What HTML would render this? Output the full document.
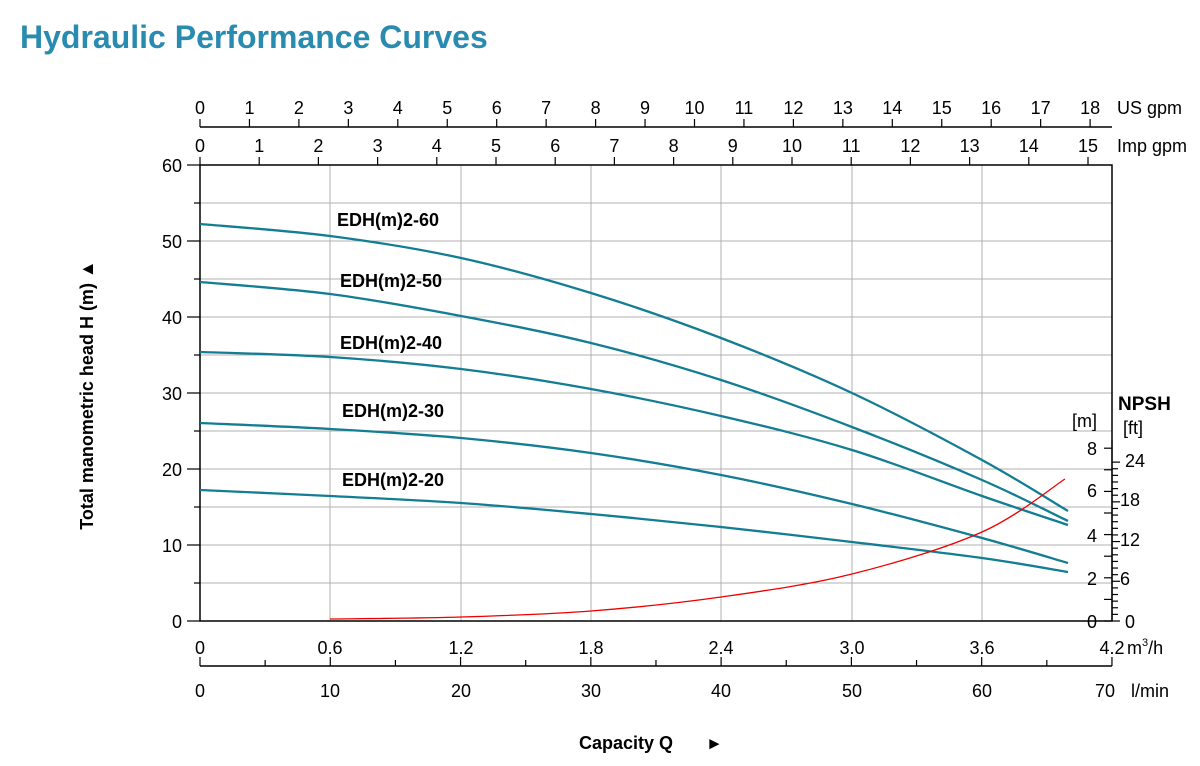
<!DOCTYPE html>
<html><head><meta charset="utf-8"><style>
body{margin:0;background:#fff;}
svg{display:block;font-family:"Liberation Sans",Arial,sans-serif;}
</style></head><body>
<svg id="s" width="1200" height="766" viewBox="0 0 1200 766">
<text x="20" y="48" font-size="32" font-weight="bold" fill="#2a8bb0">Hydraulic Performance Curves</text>

<g stroke="#b0b0b0" stroke-width="1">
<line x1="200" y1="203" x2="1112" y2="203"/><line x1="200" y1="241" x2="1112" y2="241"/>
<line x1="200" y1="279" x2="1112" y2="279"/><line x1="200" y1="317" x2="1112" y2="317"/>
<line x1="200" y1="355" x2="1112" y2="355"/><line x1="200" y1="393" x2="1112" y2="393"/>
<line x1="200" y1="431" x2="1112" y2="431"/><line x1="200" y1="469" x2="1112" y2="469"/>
<line x1="200" y1="507" x2="1112" y2="507"/><line x1="200" y1="545" x2="1112" y2="545"/>
<line x1="200" y1="583" x2="1112" y2="583"/>
<line x1="330" y1="165" x2="330" y2="621"/><line x1="461" y1="165" x2="461" y2="621"/>
<line x1="591" y1="165" x2="591" y2="621"/><line x1="721" y1="165" x2="721" y2="621"/>
<line x1="852" y1="165" x2="852" y2="621"/><line x1="982" y1="165" x2="982" y2="621"/>
</g>
<rect x="200" y="165" width="912" height="456" stroke="#000" stroke-width="1.5" fill="none"/>
<g stroke="#000" stroke-width="1.2">
<line x1="187" y1="165" x2="200" y2="165"/><line x1="194" y1="203" x2="200" y2="203"/>
<line x1="187" y1="241" x2="200" y2="241"/><line x1="194" y1="279" x2="200" y2="279"/>
<line x1="187" y1="317" x2="200" y2="317"/><line x1="194" y1="355" x2="200" y2="355"/>
<line x1="187" y1="393" x2="200" y2="393"/><line x1="194" y1="431" x2="200" y2="431"/>
<line x1="187" y1="469" x2="200" y2="469"/><line x1="194" y1="507" x2="200" y2="507"/>
<line x1="187" y1="545" x2="200" y2="545"/><line x1="194" y1="583" x2="200" y2="583"/>
<line x1="187" y1="621" x2="200" y2="621"/>
</g>
<g font-size="18" text-anchor="end">
<text x="182" y="172">60</text><text x="182" y="248">50</text><text x="182" y="324">40</text>
<text x="182" y="400">30</text><text x="182" y="476">20</text><text x="182" y="552">10</text><text x="182" y="628">0</text>
</g>
<text transform="translate(93,395) rotate(-90)" font-size="18" font-weight="bold" text-anchor="middle">Total manometric head H (m) ▲</text>

<line x1="200" y1="127" x2="1112" y2="127" stroke="#000" stroke-width="1.5"/>
<g stroke="#000" stroke-width="1.2" id="us"></g>
<g font-size="18" text-anchor="middle" id="ust"></g>
<text x="1117" y="114" font-size="18">US gpm</text>
<g stroke="#000" stroke-width="1.2" id="imp"></g>
<g font-size="18" text-anchor="middle" id="impt"></g>
<text x="1117" y="152" font-size="18">Imp gpm</text>

<g font-size="18" text-anchor="middle">
<text x="200" y="654">0</text><text x="330" y="654">0.6</text><text x="461" y="654">1.2</text>
<text x="591" y="654">1.8</text><text x="721" y="654">2.4</text><text x="852" y="654">3.0</text>
<text x="982" y="654">3.6</text><text x="1112" y="654">4.2</text>
</g>
<text x="1127" y="654" font-size="18">m<tspan font-size="11" dy="-8">3</tspan><tspan dy="8">/h</tspan></text>
<line x1="200" y1="666" x2="1112" y2="666" stroke="#000" stroke-width="1.5"/>
<g stroke="#000" stroke-width="1.2" id="lm"></g>
<g font-size="18" text-anchor="middle">
<text x="200" y="697">0</text><text x="330" y="697">10</text><text x="461" y="697">20</text>
<text x="591" y="697">30</text><text x="721" y="697">40</text><text x="852" y="697">50</text>
<text x="982" y="697">60</text><text x="1105" y="697">70</text>
</g>
<text x="1131" y="697" font-size="18">l/min</text>
<text x="579" y="749" font-size="18" font-weight="bold">Capacity Q</text>
<text x="706" y="749" font-size="17" font-weight="bold">►</text>

<g stroke="#000" stroke-width="1.2" id="np"></g>
<g font-size="18" text-anchor="end">
<text x="1097" y="628">0</text><text x="1097" y="585">2</text><text x="1097" y="542">4</text>
<text x="1097" y="497">6</text><text x="1097" y="455">8</text>
</g>
<g font-size="18">
<text x="1125" y="628">0</text><text x="1120" y="585">6</text><text x="1120" y="546">12</text>
<text x="1120" y="506">18</text><text x="1125" y="467">24</text>
</g>
<text x="1072" y="427" font-size="18">[m]</text>
<text x="1123" y="434" font-size="18">[ft]</text>
<text x="1118" y="410" font-size="19" font-weight="bold">NPSH</text>

<g fill="none" stroke="#137d93" stroke-width="2.3" id="cv"></g>
<g fill="none" stroke="#e00" stroke-width="1.3" id="rd"></g>

<g font-size="18" font-weight="bold">
<text x="337" y="226">EDH(m)2-60</text><text x="340" y="287">EDH(m)2-50</text>
<text x="340" y="349">EDH(m)2-40</text><text x="342" y="417">EDH(m)2-30</text>
<text x="342" y="486">EDH(m)2-20</text>
</g>
</svg>
<script>
var ns="http://www.w3.org/2000/svg";
function L(g,x1,y1,x2,y2){var l=document.createElementNS(ns,"line");l.setAttribute("x1",x1);l.setAttribute("y1",y1);l.setAttribute("x2",x2);l.setAttribute("y2",y2);document.getElementById(g).appendChild(l);}
function T(g,x,y,s){var t=document.createElementNS(ns,"text");t.setAttribute("x",x);t.setAttribute("y",y);t.textContent=s;document.getElementById(g).appendChild(t);}
for(var i=0;i<=18;i++){var x=200+i*49.45;L("us",x,119,x,127);T("ust",x,114,i);}
for(var i=0;i<=15;i++){var x=200+i*59.2;L("imp",x,157,x,165);T("impt",x,152,i);}
for(var i=0;i<=14;i++){var x=200+i*65.14;L("lm",x,666,x,i%2?660:657);}
for(var i=0;i<=8;i++){var y=621-i*21.6;L("np",1104,y,1112,y);}
for(var i=0;i<=24;i++){var y=621-i*6.62;L("np",1112,y,i%6?1118:1120,y);}
L("np",1112,440,1112,621);
function cr(p){var d="M"+p[0][0]+","+p[0][1];for(var i=0;i<p.length-1;i++){var a=p[i-1]||p[i],b=p[i],c=p[i+1],e=p[i+2]||c;
d+=" C"+(b[0]+(c[0]-a[0])/6)+","+(b[1]+(c[1]-a[1])/6)+" "+(c[0]-(e[0]-b[0])/6)+","+(c[1]-(e[1]-b[1])/6)+" "+c[0]+","+c[1];}return d;}
var X=[200,330,461,591,721,852,982,1068];
var Y=[[224,236,258,293,338,393,460,511],[282,294,316,343,380,427,480,521],[352,357,369,389,416,450,496,525],[423,429,438,453,475,504,538,563],[490,496,503,514,527,542,558,572]];
Y.forEach(function(r){var p=r.map(function(y,i){return [X[i],y]});var pa=document.createElementNS(ns,"path");pa.setAttribute("d",cr(p));document.getElementById("cv").appendChild(pa);});
var rp=[[330,619],[461,617],[591,611],[721,597],[852,574],[982,532],[1065,479]];
var pa=document.createElementNS(ns,"path");pa.setAttribute("d",cr(rp));document.getElementById("rd").appendChild(pa);
</script>
</body></html>
